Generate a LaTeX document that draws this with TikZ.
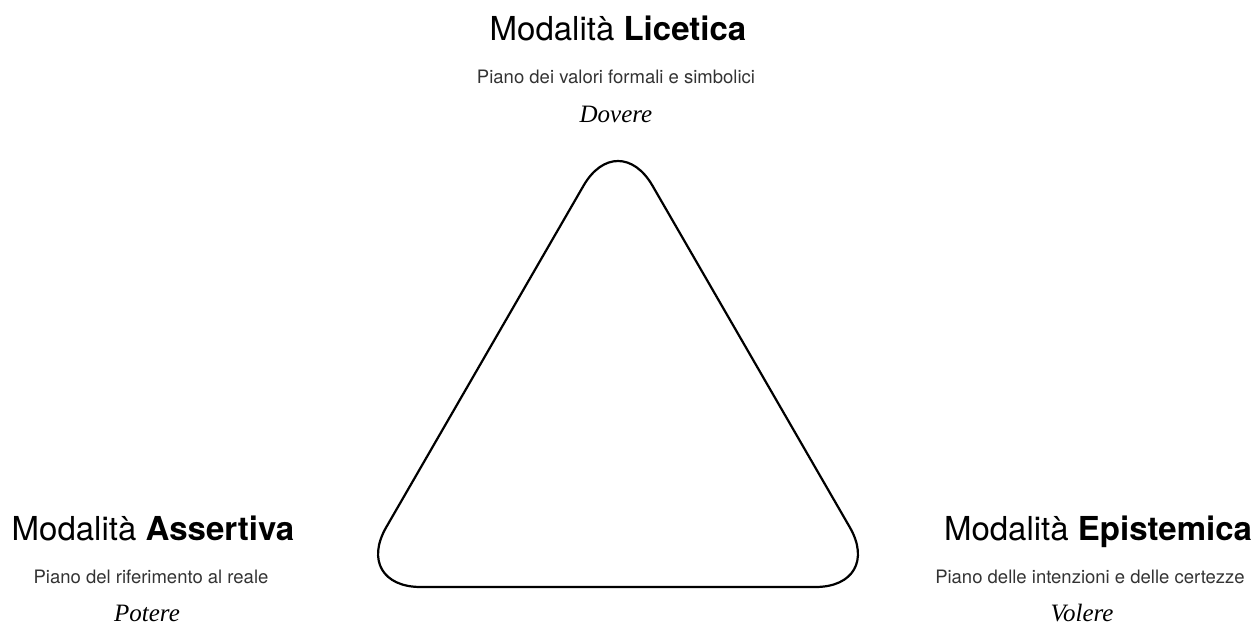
\documentclass[tikz,border=0pt]{standalone}
\usepackage{fontspec}
\setmainfont{TeX Gyre Heros}
\newfontfamily\verbfont{Liberation Serif}
\begin{document}
\begin{tikzpicture}[x=1pt,y=-1pt,
    titolo/.style={anchor=base,inner sep=0pt,font=\fontsize{33}{38}\selectfont},
    piano/.style={anchor=base,inner sep=0pt,text=black!80,font=\fontsize{18.5}{22}\selectfont},
    verbo/.style={anchor=base,inner sep=0pt,font=\verbfont\itshape\fontsize{25}{30}\selectfont}]
            \useasboundingbox (0,0) rectangle (1258,624);

            % vertici del triangolo
            \coordinate (top) at (618,126);
            \coordinate (bl) at (351.7,587);
            \coordinate (br) at (884.3,587);
            \draw[line width=2.2pt,rounded corners=69pt] (618,587) -- (br) -- (top) -- (bl) -- cycle;

            \node (licetica) at (618,40) [titolo]{Modalità \textbf{Licetica}};
            \node (licpiano) at (616,83) [piano]{Piano dei valori formali e simbolici};
            \node (dovere) at (616,122) [verbo]{Dovere};

            \node (assertiva) at (153,540) [titolo]{Modalità \textbf{Assertiva}};
            \node (asspiano) at (151,583) [piano]{Piano del riferimento al reale};
            \node (potere) at (147,621) [verbo]{Potere};

            \node (epistemica) at (1098,540) [titolo]{Modalità \textbf{Epistemica}};
            \node (epipiano) at (1090,583) [piano]{Piano delle intenzioni e delle certezze};
            \node (volere) at (1082,621) [verbo]{Volere};
\end{tikzpicture}
\end{document}
